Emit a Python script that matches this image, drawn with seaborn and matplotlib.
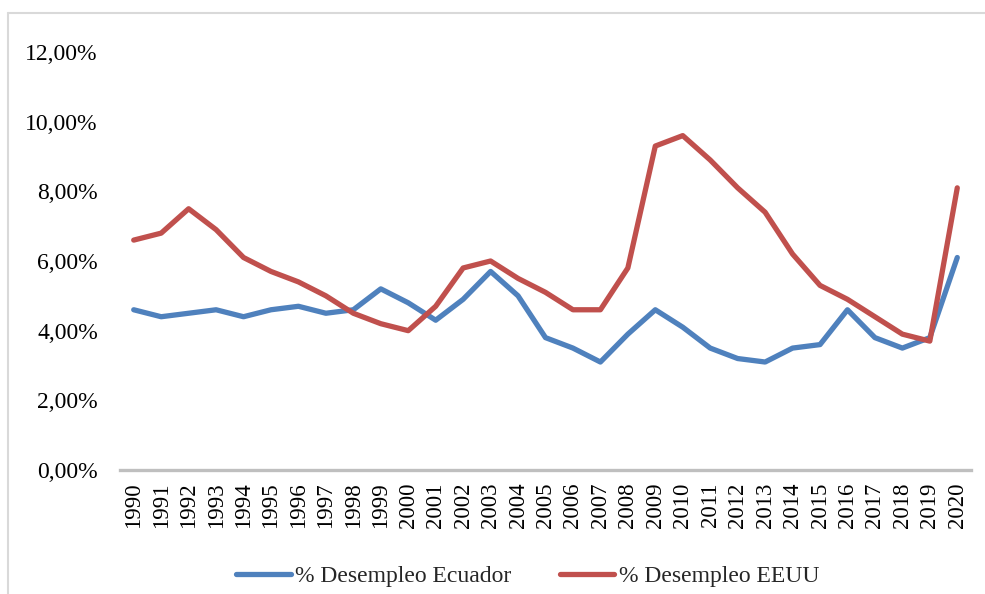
import matplotlib
matplotlib.use("Agg")
import matplotlib.pyplot as plt
import seaborn as sns
import pandas as pd
from matplotlib.lines import Line2D
from matplotlib.ticker import FuncFormatter

years = list(range(1990, 2021))
ecuador = [4.6, 4.4, 4.5, 4.6, 4.4, 4.6, 4.7, 4.5, 4.6, 5.2, 4.8, 4.3, 4.9, 5.7, 5.0,
           3.8, 3.5, 3.1, 3.9, 4.6, 4.1, 3.5, 3.2, 3.1, 3.5, 3.6, 4.6, 3.8, 3.5, 3.8, 6.1]
eeuu = [6.6, 6.8, 7.5, 6.9, 6.1, 5.7, 5.4, 5.0, 4.5, 4.2, 4.0, 4.7, 5.8, 6.0, 5.5,
        5.1, 4.6, 4.6, 5.8, 9.3, 9.6, 8.9, 8.1, 7.4, 6.2, 5.3, 4.9, 4.4, 3.9, 3.7, 8.1]
series_names = ["% Desempleo Ecuador", "% Desempleo EEUU"]
colors = ["#4F81BD", "#C0504D"]

df = pd.concat([
    pd.DataFrame({"year": years, "value": ecuador, "serie": series_names[0]}),
    pd.DataFrame({"year": years, "value": eeuu, "serie": series_names[1]}),
])

sns.set_theme(style="white")
plt.rcParams["font.family"] = ["Liberation Serif", "DejaVu Serif"]

fig = plt.figure(figsize=(9.85, 5.94), dpi=100)
ax = fig.add_axes([120 / 985, 1 - 470 / 594, (971 - 120) / 985, (470 - 52) / 594])

sns.lineplot(data=df, x="year", y="value", hue="serie", palette=colors,
             linewidth=3.8, ax=ax, legend=False, sort=False)

ax.set_xlim(1989.5, 2020.5)
ax.set_ylim(0, 12)
ax.set_yticks([0, 2, 4, 6, 8, 10, 12])
ax.yaxis.set_major_formatter(FuncFormatter(lambda v, p: f"{v:.2f}".replace(".", ",") + "%"))
ax.set_xticks(years)
ax.set_xticklabels([str(y) for y in years], rotation=90)
ax.tick_params(axis="y", length=0, pad=16, labelsize=17, labelcolor="black")
ax.tick_params(axis="x", length=0, pad=9, labelsize=16.5, labelcolor="black")
for s in ["top", "right", "left"]:
    ax.spines[s].set_visible(False)
ax.spines["bottom"].set_color("#BFBFBF")
ax.spines["bottom"].set_linewidth(2.4)
ax.grid(False)
ax.set_xlabel("")
ax.set_ylabel("")

handles = [Line2D([0], [0], color=c, lw=3.8, solid_capstyle="round") for c in colors]
fig.legend(handles, series_names, loc="center", bbox_to_anchor=(528 / 985, 1 - 576 / 594),
           ncol=2, frameon=False, fontsize=17, handlelength=2.3, handletextpad=0.2,
           columnspacing=2.05)

# outer chart frame (left and top edges visible)
fig.add_artist(Line2D([7.5 / 985, 7.5 / 985], [0, 1 - 12.5 / 594], color="#D9D9D9", lw=1.5))
fig.add_artist(Line2D([7.5 / 985, 1], [1 - 12.5 / 594, 1 - 12.5 / 594], color="#D9D9D9", lw=1.5))

fig.savefig("out.png", dpi=100)
